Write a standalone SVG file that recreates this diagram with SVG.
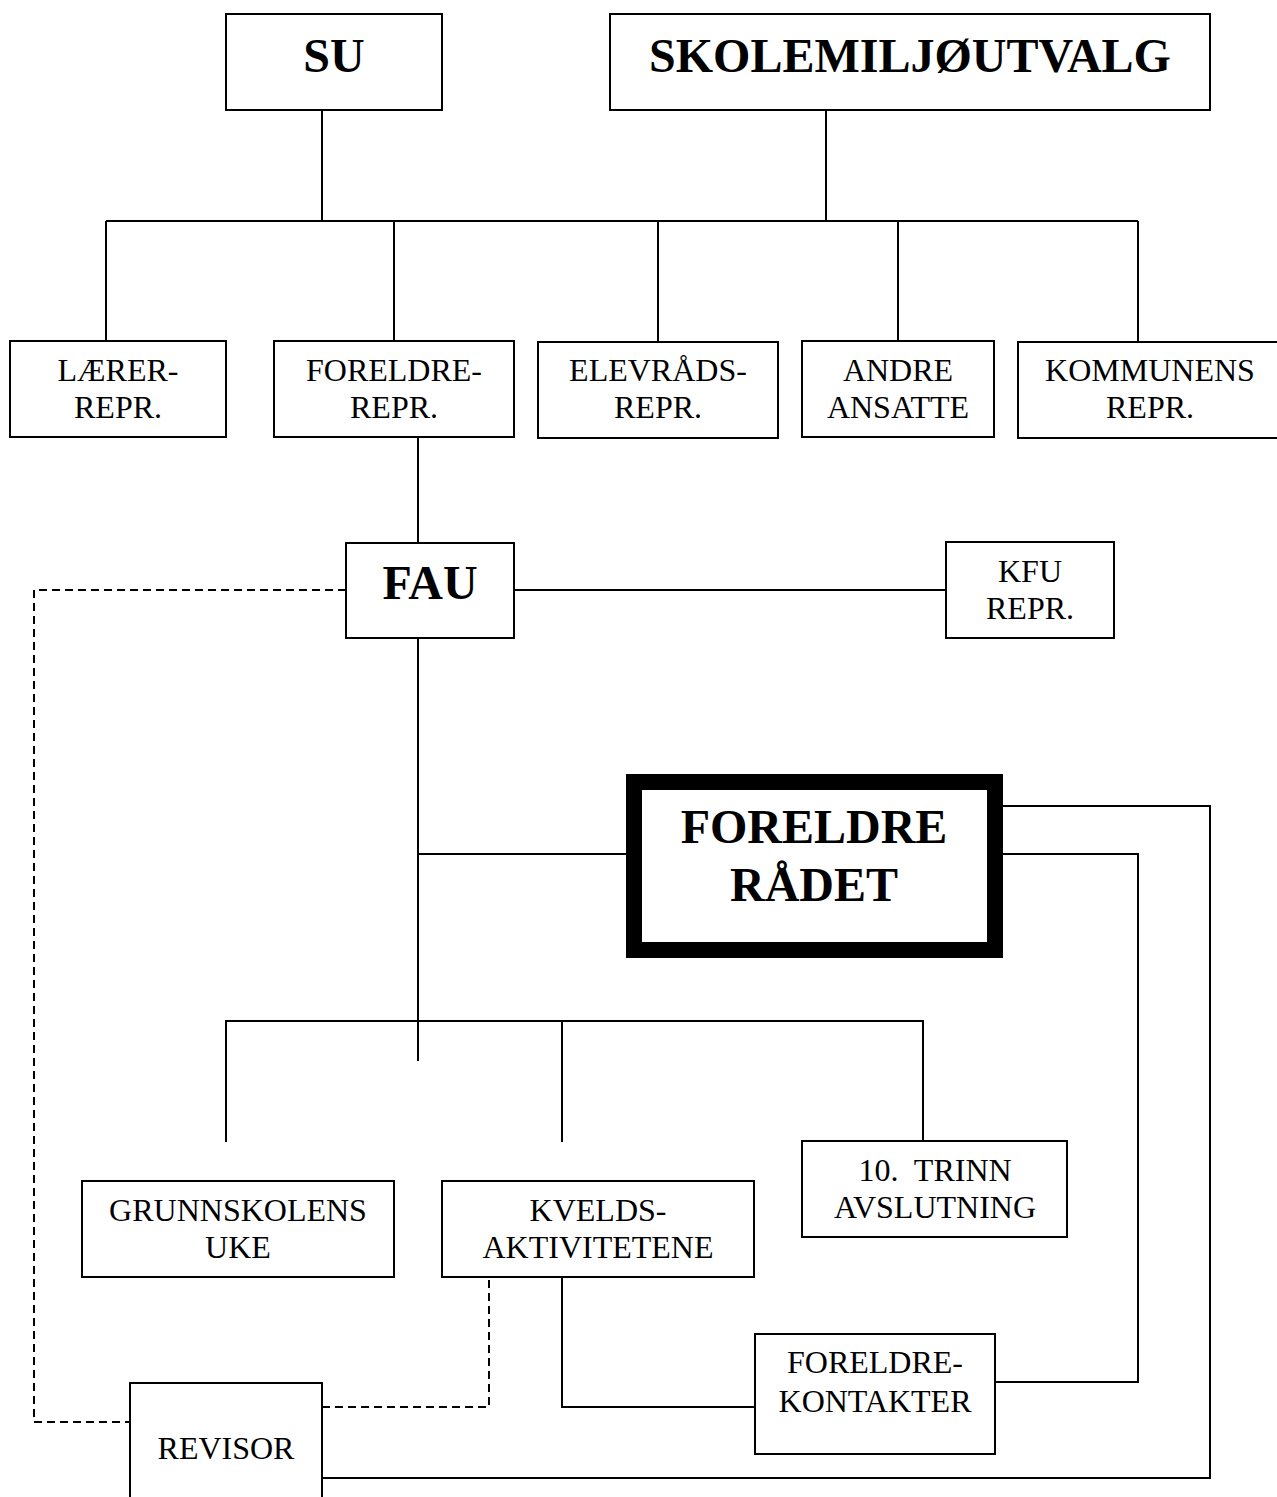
<svg xmlns="http://www.w3.org/2000/svg" width="1277" height="1497" viewBox="0 0 1277 1497">
<style>
.box{fill:#fff;stroke:#000;stroke-width:2}
.thick{fill:#fff;stroke:#000;stroke-width:16}
.ln{fill:none;stroke:#000;stroke-width:2}
.dash{fill:none;stroke:#000;stroke-width:2;stroke-dasharray:8 5}
text{font-family:"Liberation Serif","Times New Roman",serif;fill:#000;text-anchor:middle}
.t{font-size:32px}
.b{font-size:48px;font-weight:bold}
</style>
<rect x="0" y="0" width="1277" height="1497" fill="#fff"/>
<g id="connectors">
<path class="ln" d="M322 110V221M826 110V221M106 221H1138M106 221V342M394 221V342M658 221V342M898 221V342M1138 221V342"/>
<path class="ln" d="M418 437V543"/>
<path class="ln" d="M514 590H946"/>
<path class="ln" d="M418 638V1061"/>
<path class="ln" d="M418 854H626"/>
<path class="ln" d="M226 1142V1021H923V1141M562 1021V1142"/>
<path class="ln" d="M562 1277V1407H755"/>
<path class="ln" d="M1003 806H1210V1478H322"/>
<path class="ln" d="M1003 854H1138V1382H995"/>
<path class="dash" d="M346 590H34V1422H130"/>
<path class="dash" d="M322 1407H489V1277"/>
</g>
<g id="su"><rect class="box" x="226" y="14" width="216" height="96"/><text class="b" x="334" y="72">SU</text></g>
<g id="skolemiljoutvalg"><rect class="box" x="610" y="14" width="600" height="96"/><text class="b" x="910" y="72">SKOLEMILJØUTVALG</text></g>
<g id="laerer"><rect class="box" x="10" y="341" width="216" height="96"/><text class="t" x="118" y="381">LÆRER-</text><text class="t" x="118" y="418">REPR.</text></g>
<g id="foreldrerepr"><rect class="box" x="274" y="341" width="240" height="96"/><text class="t" x="394" y="381">FORELDRE-</text><text class="t" x="394" y="418">REPR.</text></g>
<g id="elevrad"><rect class="box" x="538" y="342" width="240" height="96"/><text class="t" x="658" y="381">ELEVRÅDS-</text><text class="t" x="658" y="418">REPR.</text></g>
<g id="andre"><rect class="box" x="802" y="341" width="192" height="96"/><text class="t" x="898" y="381">ANDRE</text><text class="t" x="898" y="418">ANSATTE</text></g>
<g id="kommunens"><rect class="box" x="1018" y="342" width="264" height="96"/><text class="t" x="1150" y="381">KOMMUNENS</text><text class="t" x="1150" y="418">REPR.</text></g>
<g id="fau"><rect class="box" x="346" y="543" width="168" height="95"/><text class="b" x="430" y="599">FAU</text></g>
<g id="kfu"><rect class="box" x="946" y="542" width="168" height="96"/><text class="t" x="1030" y="582">KFU</text><text class="t" x="1030" y="619">REPR.</text></g>
<g id="foreldreradet"><rect class="thick" x="634" y="782" width="361" height="168"/><text class="b" x="814" y="843">FORELDRE</text><text class="b" x="814" y="901">RÅDET</text></g>
<g id="grunnskolens"><rect class="box" x="82" y="1181" width="312" height="96"/><text class="t" x="238" y="1221">GRUNNSKOLENS</text><text class="t" x="238" y="1258">UKE</text></g>
<g id="kvelds"><rect class="box" x="442" y="1181" width="312" height="96"/><text class="t" x="598" y="1221">KVELDS-</text><text class="t" x="598" y="1258">AKTIVITETENE</text></g>
<g id="trinn"><rect class="box" x="802" y="1141" width="265" height="96"/><text class="t" x="935" y="1181" xml:space="preserve" style="white-space:pre">10.  TRINN</text><text class="t" x="935" y="1218">AVSLUTNING</text></g>
<g id="foreldrekontakter"><rect class="box" x="755" y="1334" width="240" height="120"/><text class="t" x="875" y="1373">FORELDRE-</text><text class="t" x="875" y="1412">KONTAKTER</text></g>
<g id="revisor"><rect class="box" x="130" y="1383" width="192" height="130"/><text class="t" x="226" y="1459">REVISOR</text></g>
</svg>
